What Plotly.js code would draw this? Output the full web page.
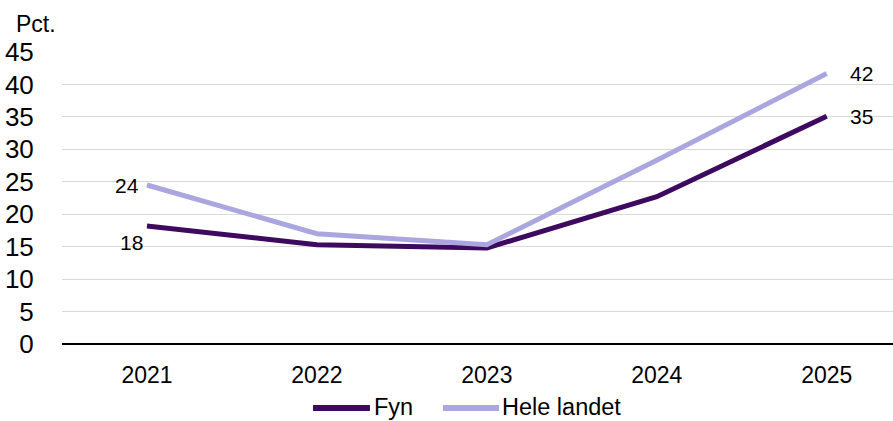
<!DOCTYPE html>
<html>
<head>
<meta charset="utf-8">
<script src="https://cdn.plot.ly/plotly-3.0.1.min.js"></script>
<style>
html,body{margin:0;padding:0;background:#fff;}
#chart{width:893px;height:421px;}
</style>
</head>
<body>
<div id="chart"></div>
<script>
const years = [2021, 2022, 2023, 2024, 2025];
const seriesNames = ['Fyn', 'Hele landet'];
const fyn = [18.2, 15.3, 14.8, 22.7, 35.1];
const heleLandet = [24.5, 17.0, 15.3, 28.3, 41.7];
const fynLabels = ['18', '', '', '', '35'];
const heleLabels = ['24', '', '', '', '42'];
const yTicks = [0, 5, 10, 15, 20, 25, 30, 35, 40, 45];

const fynColor = '#3d0a5f';
const heleColor = '#aba6e0';
const colors = [fynColor, heleColor];
const font = 'Liberation Sans, Arial, sans-serif';

const traces = [
  {x: years, y: fyn, name: seriesNames[0], type: 'scatter', mode: 'lines',
   line: {color: fynColor, width: 5}, hoverinfo: 'skip'},
  {x: years, y: heleLandet, name: seriesNames[1], type: 'scatter', mode: 'lines',
   line: {color: heleColor, width: 5}, hoverinfo: 'skip'}
];

const annotations = [];
annotations.push({x: years[0], y: heleLandet[0], xref: 'x', yref: 'y', text: heleLabels[0],
  showarrow: false, xanchor: 'right', yanchor: 'middle', xshift: -6, yshift: 0,
  font: {family: font, size: 21, color: '#000'}});
annotations.push({x: years[0], y: fyn[0], xref: 'x', yref: 'y', text: fynLabels[0],
  showarrow: false, xanchor: 'right', yanchor: 'middle', xshift: -2, yshift: -17,
  font: {family: font, size: 21, color: '#000'}});
const li = years.length - 1;
annotations.push({x: years[li], y: heleLandet[li], xref: 'x', yref: 'y', text: heleLabels[li],
  showarrow: false, xanchor: 'left', yanchor: 'middle', xshift: 21, yshift: 0,
  font: {family: font, size: 21, color: '#000'}});
annotations.push({x: years[li], y: fyn[li], xref: 'x', yref: 'y', text: fynLabels[li],
  showarrow: false, xanchor: 'left', yanchor: 'middle', xshift: 21, yshift: 0,
  font: {family: font, size: 21, color: '#000'}});
annotations.push({x: 0, y: 1, xref: 'paper', yref: 'paper', text: 'Pct.',
  showarrow: false, xanchor: 'left', yanchor: 'middle', xshift: -48, yshift: 28,
  font: {family: font, size: 23, color: '#000'}});

// custom legend (paper coordinates)
const legY = -0.219;
const legLineX = [[0.302, 0.3706], [0.4585, 0.5259]];
const legTextX = [0.3755, 0.5295];
const shapes = [];
seriesNames.forEach((n, i) => {
  shapes.push({type: 'line', xref: 'paper', yref: 'paper',
    x0: legLineX[i][0], x1: legLineX[i][1], y0: legY, y1: legY,
    line: {color: colors[i], width: 6}});
  annotations.push({x: legTextX[i], y: legY, xref: 'paper', yref: 'paper', text: n,
    showarrow: false, xanchor: 'left', yanchor: 'middle', xshift: -2, yshift: 1,
    font: {family: font, size: 23.5, color: '#000'}});
});

const layout = {
  width: 893, height: 421,
  margin: {l: 62, r: 0, t: 52, b: 77, autoexpand: false},
  paper_bgcolor: '#fff', plot_bgcolor: '#fff',
  font: {family: font, color: '#000'},
  showlegend: false,
  xaxis: {
    type: 'linear', range: [2020.5, 2025.39], tickvals: years, ticktext: years.map(String),
    showgrid: false, zeroline: false, showline: false,
    ticks: 'outside', ticklen: 10, tickcolor: 'rgba(0,0,0,0)',
    tickfont: {family: font, size: 23, color: '#000'}, fixedrange: true
  },
  yaxis: {
    range: [0, 45], tickvals: yTicks, ticktext: yTicks.map(String),
    showgrid: true, gridcolor: '#d9d9d9', gridwidth: 1,
    zeroline: true, zerolinecolor: '#000', zerolinewidth: 1.5, showline: false,
    ticks: 'outside', ticklen: 22, tickcolor: 'rgba(0,0,0,0)',
    tickfont: {family: font, size: 26, color: '#000'}, fixedrange: true
  },
  shapes: shapes,
  annotations: annotations
};

Plotly.newPlot('chart', traces, layout, {displayModeBar: false, staticPlot: true});
</script>
</body>
</html>
